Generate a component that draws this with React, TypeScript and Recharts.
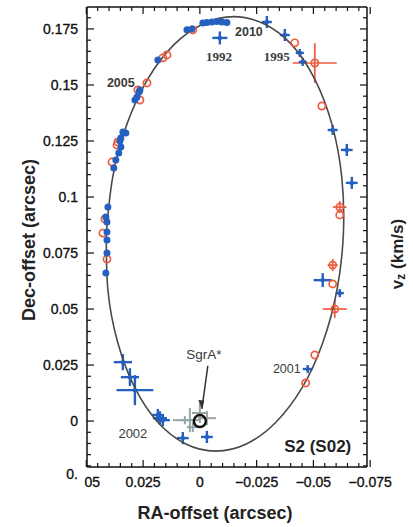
import React from 'react';
import { ScatterChart, Scatter, XAxis, YAxis, ErrorBar, Label } from 'recharts';

// ---------- axes ----------
const X_DOMAIN: [number, number] = [-0.0736, 0.0497];
const Y_DOMAIN: [number, number] = [-0.0205, 0.1848];

const xMajorTicks = [0.05, 0.025, 0, -0.025, -0.05, -0.075];
const xTickLabels = ['05', '0.025', '0', '\u22120.025', '\u22120.05', '\u22120.075'];
const xMinorTicks = [0.045, 0.04, 0.035, 0.03, 0.02, 0.015, 0.01, 0.005, -0.005, -0.01, -0.015, -0.02, -0.03, -0.035, -0.04, -0.045, -0.055, -0.06, -0.065, -0.07];
const yMajorTicks = [0, 0.025, 0.05, 0.075, 0.1, 0.125, 0.15, 0.175];
const yTickLabels = ['0', '0.025', '0.05', '0.075', '0.1', '0.125', '0.15', '0.175'];
const yMinorTicks = [-0.02, -0.015, -0.01, -0.005, 0.005, 0.01, 0.015, 0.02, 0.03, 0.035, 0.04, 0.045, 0.055, 0.06, 0.065, 0.07, 0.08, 0.085, 0.09, 0.095, 0.105, 0.11, 0.115, 0.12, 0.13, 0.135, 0.14, 0.145, 0.155, 0.16, 0.165, 0.17, 0.18];
const yClippedTick = -0.02;
const yClippedLabel = '0.';

// ---------- data (RA offset, Dec offset) in arcsec ----------
const orbitFit: [number, number][] = [
  [0.0412, 0.0837], [0.0384, 0.1088], [0.0322, 0.1323], [0.0231, 0.1524], [0.0116, 0.1678],
  [-0.0014, 0.1772], [-0.0150, 0.1805], [-0.0284, 0.1772], [-0.0406, 0.1678], [-0.0507, 0.1524],
  [-0.0582, 0.1323], [-0.0625, 0.1088], [-0.0632, 0.0837], [-0.0604, 0.0586], [-0.0542, 0.0352],
  [-0.0451, 0.0150], [-0.0336, -0.0004], [-0.0207, -0.0101], [-0.0070, -0.0134], [0.0064, -0.0101],
  [0.0186, -0.0004], [0.0287, 0.0150], [0.0362, 0.0352], [0.0405, 0.0586], [0.0412, 0.0837],
];

const keckDots: [number, number][] = [
  [0.0057, 0.1746], [0.0035, 0.1750], [-0.0013, 0.1777], [-0.0031, 0.1779], [-0.0053, 0.1781],
  [-0.0075, 0.1783], [-0.0097, 0.1781], [-0.0119, 0.1779],
  [0.0185, 0.1612], [0.0264, 0.1478], [0.0268, 0.1469], [0.0277, 0.1446], [0.0286, 0.1433],
  [0.0339, 0.1290], [0.0326, 0.1286], [0.0348, 0.1263], [0.0352, 0.1250],
  [0.0348, 0.1223], [0.0357, 0.1196], [0.0370, 0.1165], [0.0379, 0.1129],
  [0.0405, 0.0955], [0.0414, 0.0911], [0.0409, 0.0888], [0.0409, 0.0844], [0.0409, 0.0808],
  [0.0409, 0.0750], [0.0414, 0.0661],
];

// [RA, Dec, RA error, Dec error]
const redCircles: [number, number, number, number][] = [
  [0.0031, 0.1746, 0, 0], [0.0163, 0.1621, 0, 0], [0.0145, 0.1634, 0, 0], [0.0273, 0.1478, 0, 0],
  [0.0233, 0.1509, 0, 0], [0.0264, 0.1433, 0, 0], [0.0361, 0.1246, 0, 0], [0.0365, 0.1232, 0, 0],
  [0.0387, 0.1156, 0, 0], [0.0418, 0.0902, 0, 0], [0.0427, 0.0839, 0, 0], [0.0409, 0.0723, 0, 0],
  [-0.0418, 0.1688, 0, 0], [-0.0506, 0.1598, 0.0097, 0.0089], [-0.0537, 0.1406, 0, 0],
  [-0.0616, 0.0955, 0.0030, 0.0027], [-0.0616, 0.0920, 0, 0], [-0.0585, 0.0696, 0.0022, 0.0027],
  [-0.0585, 0.0612, 0, 0], [-0.0594, 0.0500, 0.0053, 0.0040], [-0.0506, 0.0295, 0, 0],
  [-0.0466, 0.0170, 0, 0],
];

const blueCrosses: [number, number, number, number][] = [
  [-0.0295, 0.1781, 0.0022, 0.0027], [-0.0374, 0.1723, 0.0022, 0.0027], [-0.0440, 0.1643, 0.0018, 0.0018],
  [-0.0453, 0.1603, 0.0018, 0.0018], [-0.0088, 0.1710, 0.0033, 0.0029], [-0.0585, 0.1299, 0.0022, 0.0022],
  [-0.0647, 0.1210, 0.0026, 0.0027], [-0.0669, 0.1063, 0.0026, 0.0027], [-0.0541, 0.0629, 0.0040, 0.0031],
  [-0.0616, 0.0571, 0.0018, 0.0018], [-0.0475, 0.0232, 0.0022, 0.0018], [-0.0031, -0.0071, 0.0026, 0.0027],
  [0.0075, -0.0076, 0.0026, 0.0027], [0.0339, 0.0263, 0.0040, 0.0036], [0.0308, 0.0196, 0.0040, 0.0040],
  [0.0286, 0.0138, 0.0081, 0.0067], [0.0176, 0.0013, 0.0031, 0.0031], [0.0163, 0.0004, 0.0031, 0.0027],
  [0.0185, 0.0027, 0.0026, 0.0027],
];

const flareCrosses: [number, number, number, number][] = [
  [0.0044, 0.0004, 0.0044, 0.0054], [0.0000, 0.0036, 0.0035, 0.0045], [-0.0031, 0.0013, 0.0040, 0.0031],
  [0.0031, -0.0027, 0.0026, 0.0022], [0.0066, 0.0004, 0.0053, 0.0018],
];

const sgrAPosition: [number, number][] = [[0, 0]];

const annotations: { x: number; y: number; text: string }[] = [
  { x: -0.0216, y: 0.1737, text: '2010' },
  { x: -0.0084, y: 0.1625, text: '1992' },
  { x: -0.0339, y: 0.1625, text: '1995' },
  { x: 0.0348, y: 0.1509, text: '2005' },
  { x: 0.0295, y: -0.0054, text: '2002' },
  { x: -0.0383, y: 0.0232, text: '2001' },
  { x: -0.0018, y: 0.0299, text: 'SgrA*' },
  { x: -0.0519, y: -0.0112, text: 'S2 (S02)' },
];

const arrowPath: [number, number][] = [[-0.0035, 0.0246], [-0.0009, 0.0054]];

// ---------- styles ----------
const BLUE = '#2560c0';
const RED = '#ee5b3d';
const GRAY = '#94a6a5';
const INK = '#111';
const FONT = '"Liberation Sans", Arial, sans-serif';
const SERIF = '"Liberation Serif", "Times New Roman", serif';

const annotationStyle: Record<string, any> = {
  '2010': { fontSize: 12.5, fontWeight: 700, fill: '#3a3a3a', fontFamily: FONT },
  '1992': { fontSize: 13, fontWeight: 700, fill: '#3a3a3a', fontFamily: SERIF },
  '1995': { fontSize: 13, fontWeight: 700, fill: '#3a3a3a', fontFamily: SERIF },
  '2005': { fontSize: 12.5, fontWeight: 700, fill: '#3a3a3a', fontFamily: FONT },
  '2002': { fontSize: 13, fontWeight: 400, fill: '#3a3a3a', fontFamily: FONT },
  '2001': { fontSize: 12.5, fontWeight: 400, fill: '#3a3a3a', fontFamily: FONT },
  'SgrA*': { fontSize: 13.5, fontWeight: 400, fill: '#3a3a3a', fontFamily: FONT },
  'S2 (S02)': { fontSize: 17, fontWeight: 700, fill: '#222', fontFamily: FONT },
};

const toPts = (arr: number[][]) =>
  arr.map((r) => ({ x: r[0], y: r[1], ex: r[2] ?? 0, ey: r[3] ?? 0 }));

const orbitData = toPts(orbitFit);
const dotData = toPts(keckDots);
const redData = toPts(redCircles);
const crossData = toPts(blueCrosses);
const flareData = toPts(flareCrosses);
const sgrData = toPts(sgrAPosition);
const arrowData = toPts(arrowPath).map((p, i) => ({ ...p, tip: i === 1 }));

const near = (a: number, b: number) => Math.abs(a - b) < 1e-9;
const MAJOR = 7;
const MINOR = 4;
const labelProps = { fontSize: 14, fill: INK, stroke: INK, strokeWidth: 0.35, fontFamily: FONT };

const BottomTick = (props: any) => {
  const { x, y, payload } = props;
  const v = payload.value;
  const i = xMajorTicks.findIndex((m) => near(m, v));
  return (
    <g>
      <line x1={x} x2={x} y1={y} y2={y - (i >= 0 ? MAJOR : MINOR)} stroke={INK} strokeWidth={1.2} />
      {i >= 0 && (
        <text x={x + (i === 0 ? 6 : 0)} y={y + 20} textAnchor="middle" {...labelProps}>
          {xTickLabels[i]}
        </text>
      )}
    </g>
  );
};
const TopTick = (props: any) => {
  const { x, y, payload } = props;
  const major = xMajorTicks.some((m) => near(m, payload.value));
  return <line x1={x} x2={x} y1={y} y2={y + (major ? MAJOR : MINOR)} stroke={INK} strokeWidth={1.2} />;
};
const LeftTick = (props: any) => {
  const { x, y, payload } = props;
  const v = payload.value;
  const i = yMajorTicks.findIndex((m) => near(m, v));
  return (
    <g>
      <line x1={x} x2={x + (i >= 0 ? MAJOR : MINOR)} y1={y} y2={y} stroke={INK} strokeWidth={1.2} />
      {i >= 0 && (
        <text x={x - 9} y={y + 5} textAnchor="end" {...labelProps}>
          {yTickLabels[i]}
        </text>
      )}
      {near(v, yClippedTick) && (
        <text x={x - 9} y={y + 13} textAnchor="end" {...labelProps}>
          {yClippedLabel}
        </text>
      )}
    </g>
  );
};
const RightTick = (props: any) => {
  const { x, y, payload } = props;
  const major = yMajorTicks.some((m) => near(m, payload.value));
  return <line x1={x} x2={x - (major ? MAJOR : MINOR)} y1={y} y2={y} stroke={INK} strokeWidth={1.2} />;
};

const allX = [...xMajorTicks, ...xMinorTicks];
const allY = [...yMajorTicks, ...yMinorTicks];
const axisLine = { stroke: '#111', strokeWidth: 1.5 };

const Empty = () => <g />;

export default function App() {
  return (
    <div style={{ position: 'absolute', left: 0, top: 0, width: 413, height: 527, background: '#fff' }}>
      <ScatterChart width={413} height={527} margin={{ top: 0, right: 0, bottom: 0, left: 0 }}>
        <XAxis
          xAxisId="b" type="number" dataKey="x" orientation="bottom" domain={X_DOMAIN} reversed
          allowDataOverflow ticks={allX} interval={0} tickSize={0} tickMargin={0} tickLine={false}
          axisLine={axisLine} tick={<BottomTick />} height={60}
        >
          <Label
            content={(p: any) => {
              const vb = p.viewBox || { x: 87, y: 467 };
              return (
                <text x={vb.x + 128} y={vb.y + 46} textAnchor="middle" dominantBaseline="central"
                  fontSize={18} fontWeight={700} fill="#222" fontFamily={FONT}>
                  RA-offset (arcsec)
                </text>
              );
            }}
          />
        </XAxis>
        <XAxis
          xAxisId="t" type="number" dataKey="x" orientation="top" domain={X_DOMAIN} reversed
          allowDataOverflow ticks={allX} interval={0} tickSize={0} tickMargin={0} tickLine={false}
          axisLine={axisLine} tick={<TopTick />} height={7}
        />
        <YAxis
          yAxisId="l" type="number" dataKey="y" orientation="left" domain={Y_DOMAIN}
          allowDataOverflow ticks={allY} interval={0} tickSize={0} tickMargin={0} tickLine={false}
          axisLine={axisLine} tick={<LeftTick />} width={87}
        >
          <Label
            content={(p: any) => {
              const vb = p.viewBox || { x: 0, y: 7 };
              const cx = vb.x + 29;
              const cy = vb.y + 233;
              return (
                <text x={cx} y={cy} transform={`rotate(-90 ${cx} ${cy})`} textAnchor="middle"
                  dominantBaseline="central" fontSize={18} fontWeight={700} fill="#222" fontFamily={FONT}>
                  Dec-offset (arcsec)
                </text>
              );
            }}
          />
        </YAxis>
        <YAxis
          yAxisId="r" type="number" dataKey="y" orientation="right" domain={Y_DOMAIN}
          allowDataOverflow ticks={allY} interval={0} tickSize={0} tickMargin={0} tickLine={false}
          axisLine={axisLine} tick={<RightTick />} width={46}
        >
          <Label
            content={(p: any) => {
              const vb = p.viewBox || { x: 367, y: 7 };
              const cx = vb.x + 30;
              const cy = vb.y + 247;
              return (
                <text x={cx} y={cy} transform={`rotate(-90 ${cx} ${cy})`} textAnchor="middle"
                  dominantBaseline="central" fontSize={17} fontWeight={700} fill="#222" fontFamily={FONT}>
                  v<tspan dy={4} fontSize={12}>z</tspan>
                  <tspan dy={-4}> (km/s)</tspan>
                </text>
              );
            }}
          />
        </YAxis>

        {/* keep top/right axes bound to data */}
        <Scatter data={orbitData} xAxisId="t" yAxisId="r" shape={Empty} isAnimationActive={false} />

        {/* fitted orbit */}
        <Scatter
          data={orbitData} xAxisId="b" yAxisId="l" shape={Empty} isAnimationActive={false}
          line={{ stroke: '#4a4a4a', strokeWidth: 1.6, fill: 'none' }} lineJointType="natural"
        />

        {/* flares around SgrA* */}
        <Scatter data={flareData} xAxisId="b" yAxisId="l" shape={Empty} isAnimationActive={false}>
          <ErrorBar dataKey="ex" direction="x" width={0} stroke={GRAY} strokeWidth={2} />
          <ErrorBar dataKey="ey" direction="y" width={0} stroke={GRAY} strokeWidth={2} />
        </Scatter>

        {/* SgrA* */}
        <Scatter
          data={sgrData} xAxisId="b" yAxisId="l" isAnimationActive={false}
          shape={(p: any) => <circle cx={p.cx} cy={p.cy} r={6} fill="none" stroke="#111" strokeWidth={2.4} />}
        />

        {/* red open circles (NTT/VLT) */}
        <Scatter
          data={redData} xAxisId="b" yAxisId="l" isAnimationActive={false}
          shape={(p: any) => <circle cx={p.cx} cy={p.cy} r={3.6} fill="none" stroke={RED} strokeWidth={1.7} />}
        >
          <ErrorBar dataKey="ex" direction="x" width={0} stroke={RED} strokeWidth={1.7} />
          <ErrorBar dataKey="ey" direction="y" width={0} stroke={RED} strokeWidth={1.7} />
        </Scatter>

        {/* blue filled dots */}
        <Scatter
          data={dotData} xAxisId="b" yAxisId="l" isAnimationActive={false}
          shape={(p: any) => <circle cx={p.cx} cy={p.cy} r={3.5} fill={BLUE} />}
        />

        {/* blue crosses */}
        <Scatter
          data={crossData} xAxisId="b" yAxisId="l" isAnimationActive={false}
          shape={(p: any) => <circle cx={p.cx} cy={p.cy} r={2.2} fill={BLUE} />}
        >
          <ErrorBar dataKey="ex" direction="x" width={0} stroke={BLUE} strokeWidth={2.4} />
          <ErrorBar dataKey="ey" direction="y" width={0} stroke={BLUE} strokeWidth={2.4} />
        </Scatter>

        {/* arrow to SgrA* */}
        <Scatter
          data={arrowData} xAxisId="b" yAxisId="l" isAnimationActive={false}
          line={{ stroke: '#333', strokeWidth: 1.5 }}
          shape={(p: any) =>
            p.payload && p.payload.tip ? (
              <polygon
                points={`${p.cx},${p.cy} ${p.cx - 3.6},${p.cy - 9} ${p.cx + 2.4},${p.cy - 8.4}`}
                fill="#333"
              />
            ) : (
              <g />
            )
          }
        />

        {/* annotations */}
        <Scatter
          data={annotations} xAxisId="b" yAxisId="l" isAnimationActive={false}
          shape={(p: any) => {
            const t = p.payload.text;
            const s = annotationStyle[t] || {};
            return (
              <text x={p.cx} y={p.cy} textAnchor="middle" dominantBaseline="central" {...s}>
                {t}
              </text>
            );
          }}
        />
      </ScatterChart>
    </div>
  );
}
